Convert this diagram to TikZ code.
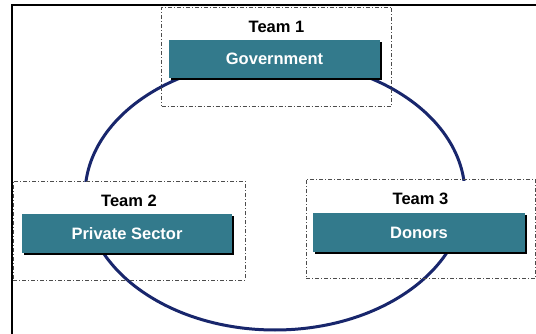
\documentclass[tikz,border=0pt]{standalone}
\usepackage{fontspec}
\setmainfont{Liberation Sans}
\usetikzlibrary{shadows}

\definecolor{tealbox}{RGB}{51,122,140}
\definecolor{ringblue}{RGB}{24,38,108}

\begin{document}
\begin{tikzpicture}[
    x=1pt, y=-1pt,
    team/.style={draw=gray!60!black, line width=0.8pt, dash pattern=on 4pt off 2pt on 1pt off 2pt, minimum width=230pt, minimum height=99pt},
    tlabel/.style={anchor=north, fill=white, font=\fontsize{16.5}{18}\selectfont\bfseries, inner xsep=0pt, inner ysep=4pt, text height=20pt, text depth=4.5pt},
    party/.style={fill=tealbox, text=white, font=\fontsize{16.5}{18}\selectfont\bfseries, minimum width=211pt, minimum height=38pt, inner sep=0pt,
      drop shadow={shadow xshift=1.6pt, shadow yshift=-1.6pt, fill=black, opacity=1}},
  ]
    \useasboundingbox (0,0) rectangle (536,334);
    \draw[line width=2pt] (12,334) -- (12,5) -- (536,5);

    \draw[ringblue, line width=3pt] (275,195) ellipse [x radius=190, y radius=135];

    \node[team] (t1box) at (276.5,56.5) {};
    \node[team, minimum width=232pt] (t2box) at (129,230.5) {};
    \node[team, minimum width=229pt] (t3box) at (420.5,229) {};

    \node[tlabel, minimum width=227pt] (t1) at ([yshift=-1.5pt]t1box.north) {Team 1};
    \node[tlabel, minimum width=230pt] (t2) at ([yshift=-1.5pt]t2box.north) {Team 2};
    \node[tlabel, minimum width=227pt] (t3) at ([yshift=-1.5pt]t3box.north) {Team 3};

    \node[party] (gov) at (274.5,59) {Government};
    \node[party, minimum width=210pt, minimum height=39pt] (priv) at (127,233.5) {Private Sector};
    \node[party, minimum width=212pt, minimum height=39pt] (don) at (419,232.5) {Donors};
\end{tikzpicture}
\end{document}
